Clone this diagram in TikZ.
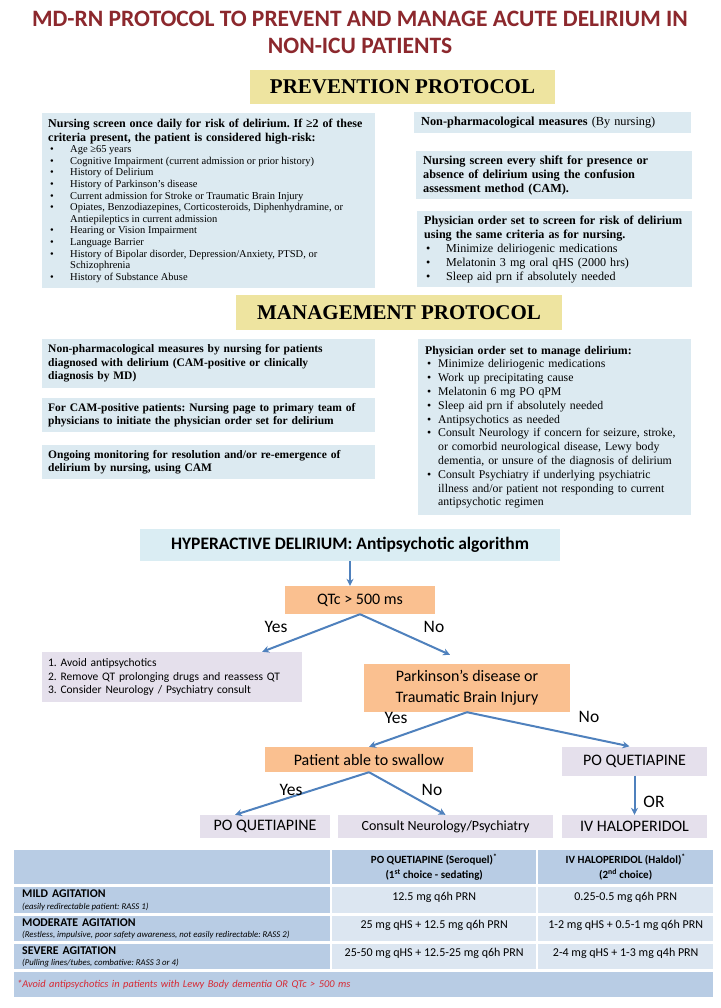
\documentclass[tikz,border=0pt]{standalone}
\usepackage{fontspec}
\setmainfont{Liberation Serif}
\newfontfamily\carlito{Carlito}
\usepackage{tikz}
\usetikzlibrary{arrows.meta,positioning,calc}
\frenchspacing

\definecolor{titlered}{RGB}{140,40,45}
\definecolor{bannerfill}{RGB}{238,228,160}
\definecolor{boxblue}{RGB}{220,234,241}
\definecolor{headblue}{RGB}{218,237,243}
\definecolor{orangefill}{RGB}{250,192,144}
\definecolor{lavender}{RGB}{229,224,236}
\definecolor{arrowblue}{RGB}{79,129,189}
\definecolor{tabdark}{RGB}{184,204,228}
\definecolor{tablight}{RGB}{220,230,241}
\definecolor{footred}{RGB}{215,40,50}

\newcommand{\pitem}[2][22pt]{\par\noindent\hangindent=#1\relax\hangafter=1\relax
  \makebox[#1][l]{\hspace{2pt}\textbullet}#2}
% small italic line under a row label, with the font's own spaces
\newcommand{\rasstext}[1]{{\fontsize{8.8}{9}\selectfont\itshape\spaceskip=0pt\xspaceskip=0pt #1}}

\tikzset{
  titletext/.style={align=center,text=titlered,inner sep=0pt,
                    font=\carlito\fontsize{23.5}{27}\selectfont\bfseries},
  banner/.style   ={fill=bannerfill,inner sep=0pt,
                    font=\fontsize{21}{24}\selectfont\bfseries},
  infobox/.style  ={fill=boxblue,anchor=north west,align=left,
                    inner xsep=7pt,inner ysep=2pt,
                    font=\fontsize{11.5}{13.5}\selectfont},
  algohead/.style ={fill=headblue,inner sep=0pt,
                    font=\carlito\fontsize{17.5}{20}\selectfont\bfseries},
  decision/.style ={fill=orangefill,align=center,inner sep=0pt,
                    font=\carlito\fontsize{16}{21}\selectfont},
  outcome/.style  ={fill=lavender,align=center,inner sep=0pt,
                    font=\carlito\fontsize{16}{18}\selectfont},
  yesno/.style    ={inner sep=1pt,font=\carlito\fontsize{17.5}{19}\selectfont},
  flowarr/.style  ={-{Stealth[length=7pt,width=7pt]},line width=2pt,draw=arrowblue},
  cell/.style     ={anchor=north west,inner sep=0pt,align=center,
                    font=\carlito\fontsize{12}{14}\selectfont},
  headcell/.style ={cell,fill=tabdark,font=\carlito\fontsize{11}{15}\selectfont\bfseries},
  rowcell/.style  ={cell,fill=tabdark,align=left,text width=300pt,inner xsep=8pt,
                    font=\carlito\fontsize{11.8}{11.5}\selectfont},
  dosecell/.style ={cell,fill=tablight,text height=9pt,text depth=9pt},
}

\begin{document}
\begin{tikzpicture}[x=1pt,y=-1pt]
\useasboundingbox[fill=white] (0,0) rectangle (720,1008);

\node[titletext] (title) at (360,32.5)
  {MD-RN PROTOCOL TO PREVENT AND MANAGE ACUTE DELIRIUM IN\\NON-ICU PATIENTS};

% prevention
\node[banner,minimum width=305pt,minimum height=34pt] (prevhead) at (402.5,87)
  {PREVENTION PROTOCOL};

\node[infobox,text width=321pt,minimum height=175pt,inner xsep=6pt] (riskbox) at (42,113)
  {\fontsize{12}{13.7}\selectfont
   \textbf{Nursing screen once daily for risk of delirium. If ≥2 of these\\
   criteria present, the patient is considered high-risk:}\par
   \fontsize{10.5}{11.6}\selectfont\spaceskip=0pt\xspaceskip=0pt
   \pitem{Age ≥65 years}
   \pitem{Cognitive Impairment (current admission or prior history)}
   \pitem{History of Delirium}
   \pitem{History of Parkinson’s disease}
   \pitem{Current admission for Stroke or Traumatic Brain Injury}
   \pitem{Opiates, Benzodiazepines, Corticosteroids, Diphenhydramine, or\newline
          Antiepileptics in current admission}
   \pitem{Hearing or Vision Impairment}
   \pitem{Language Barrier}
   \pitem{History of Bipolar disorder, Depression/Anxiety, PTSD, or\newline
          Schizophrenia}
   \pitem{History of Substance Abuse}\par};

\node[infobox,text width=263pt,minimum height=21pt,
      font=\fontsize{12.3}{14}\selectfont] (nonpharm) at (414,112)
  {\textbf{Non-pharmacological measures} (By nursing)};

\node[infobox,text width=262pt,minimum height=48pt,
      font=\fontsize{12.3}{14}\selectfont] (camshift) at (416,151)
  {\textbf{Nursing screen every shift for presence or\\
   absence of delirium using the confusion\\
   assessment method (CAM).}};

\node[infobox,text width=261pt,minimum height=76pt,
      font=\fontsize{12.1}{14}\selectfont] (physprev) at (417,211)
  {\textbf{Physician order set to screen for risk of delirium\\
   using the same criteria as for nursing.}\par
   \pitem{Minimize deliriogenic medications}
   \pitem{Melatonin 3 mg oral qHS (2000 hrs)}
   \pitem{Sleep aid prn if absolutely needed}\par};

% management
\node[banner,minimum width=326pt,minimum height=35pt] (mgmthead) at (399,312.5)
  {MANAGEMENT PROTOCOL};

\node[infobox,text width=321pt,minimum height=49pt,inner xsep=6pt] (nursemg) at (42,339)
  {\textbf{Non-pharmacological measures by nursing for patients\\
   diagnosed with delirium (CAM-positive or clinically\\
   diagnosis by MD)}};

\node[infobox,text width=321pt,minimum height=34pt,inner xsep=6pt] (pagemg) at (42,398)
  {\textbf{For CAM-positive patients: Nursing page to primary team of\\
   physicians to initiate the physician order set for delirium}};

\node[infobox,text width=321pt,minimum height=34pt,inner xsep=6pt] (monitor) at (42,445)
  {\textbf{Ongoing monitoring for resolution and/or re-emergence of\\
   delirium by nursing, using CAM}};

\node[infobox,text width=259pt,minimum height=176pt,
      font=\fontsize{11.8}{13.8}\selectfont] (physmg) at (418,339)
  {\textbf{Physician order set to manage delirium:}
   \pitem[13pt]{Minimize deliriogenic medications}
   \pitem[13pt]{Work up precipitating cause}
   \pitem[13pt]{Melatonin 6 mg PO qPM}
   \pitem[13pt]{Sleep aid prn if absolutely needed}
   \pitem[13pt]{Antipsychotics as needed}
   \pitem[13pt]{Consult Neurology if concern for seizure, stroke,\newline
                or comorbid neurological disease, Lewy body\newline
                dementia, or unsure of the diagnosis of delirium}
   \pitem[13pt]{Consult Psychiatry if underlying psychiatric\newline
                illness and/or patient not responding to current\newline
                antipsychotic regimen}\par};

% algorithm
\node[algohead,minimum width=420pt,minimum height=32pt] (hyper) at (350,545)
  {HYPERACTIVE DELIRIUM: Antipsychotic algorithm};
\node[decision,minimum width=150pt,minimum height=28pt] (qtc) at (360,600) {QTc > 500 ms};
\node[outcome,align=left,text width=248pt,inner xsep=6pt,minimum height=50pt,
      font=\carlito\fontsize{11.5}{13.5}\selectfont] (avoid) at (172,677)
  {1.\ Avoid antipsychotics\\
   2.\ Remove QT prolonging drugs and reassess QT\\
   3.\ Consider Neurology / Psychiatry consult};
\node[decision,minimum width=206pt,minimum height=48pt] (park) at (467,688)
  {Parkinson’s disease or\\Traumatic Brain Injury};
\node[decision,minimum width=208pt,minimum height=25pt] (swallow) at (369,759.5)
  {Patient able to swallow};
\node[outcome,minimum width=145pt,minimum height=29pt] (quetr) at (634.5,761) {PO QUETIAPINE};
\node[outcome,minimum width=130pt,minimum height=23pt] (quetl) at (265,826.5) {PO QUETIAPINE};
\node[outcome,minimum width=215pt,minimum height=23pt,
      font=\carlito\fontsize{14}{16}\selectfont] (consult) at (445.5,826.5)
  {Consult Neurology/Psychiatry};
\node[outcome,minimum width=145pt,minimum height=23pt] (haldol) at (634.5,826.5) {IV HALOPERIDOL};

\draw[flowarr] (hyper.south) -- (hyper.south |- qtc.north);
\draw[flowarr] (qtc.south) -- ([xshift=-40pt]avoid.north east);
\draw[flowarr] (qtc.south) -- ([xshift=-17pt,yshift=9pt]park.north);
\draw[flowarr] (park.south) -- (swallow.north);
\draw[flowarr] (park.south) -- ([xshift=-5pt]quetr.north);
\draw[flowarr] (swallow.south) -- ([xshift=-30pt]quetl.north);
\draw[flowarr] (swallow.south) -- (consult.north);
\draw[flowarr] (quetr.south) -- (haldol.north);

\node[yesno] (yes1) at (276,627) {Yes};
\node[yesno] (no1) at (434,627) {No};
\node[yesno] (yes2) at (396,718) {Yes};
\node[yesno] (no2) at (589,717) {No};
\node[yesno] (yes3) at (291,790) {Yes};
\node[yesno] (no3) at (432,790) {No};
\node[yesno] (orlab) at (654,802) {OR};

% dosing table
\node[headcell,minimum width=316pt,minimum height=34pt] (h0) at (14,850) {};
\node[headcell,minimum width=204pt,minimum height=34pt] (h1) at (332,850)
  {PO QUETIAPINE (Seroquel)\textsuperscript{*}\\(1\textsuperscript{st} choice - sedating)};
\node[headcell,minimum width=175pt,minimum height=34pt] (h2) at (538,850)
  {IV HALOPERIDOL (Haldol)\textsuperscript{*}\\(2\textsuperscript{nd} choice)};

\node[rowcell,minimum height=26pt] (mild) at (14,887)
  {\textbf{MILD AGITATION}\\\rasstext{(easily redirectable patient: RASS 1)}};
\node[dosecell,minimum width=204pt,minimum height=26pt] (mildq) at (332,887) {12.5 mg q6h PRN};
\node[dosecell,minimum width=175pt,minimum height=26pt] (mildh) at (538,887) {0.25-0.5 mg q6h PRN};

\node[rowcell,minimum height=25pt] (moder) at (14,916)
  {\textbf{MODERATE AGITATION}\\\rasstext{(Restless, impulsive, poor safety awareness, not easily redirectable: RASS 2)}};
\node[dosecell,minimum width=204pt,minimum height=25pt] (moderq) at (332,916) {25 mg qHS + 12.5 mg q6h PRN};
\node[dosecell,minimum width=175pt,minimum height=25pt] (moderh) at (538,916) {1-2 mg qHS + 0.5-1 mg q6h PRN};

\node[rowcell,minimum height=25pt] (severe) at (14,944)
  {\textbf{SEVERE AGITATION}\\\rasstext{(Pulling lines/tubes, combative: RASS 3 or 4)}};
\node[dosecell,minimum width=204pt,minimum height=25pt] (severeq) at (332,944) {25-50 mg qHS + 12.5-25 mg q6h PRN};
\node[dosecell,minimum width=175pt,minimum height=25pt] (severeh) at (538,944) {2-4 mg qHS + 1-3 mg q4h PRN};

\node[cell,fill=tabdark,align=left,text width=693pt,inner xsep=3pt,minimum height=25pt,
      text=footred,font=\carlito\itshape\fontsize{10.4}{12}\selectfont] (footnote) at (14,972)
  {*Avoid antipsychotics in patients with Lewy Body dementia OR QTc > 500 ms};

\end{tikzpicture}
\end{document}
